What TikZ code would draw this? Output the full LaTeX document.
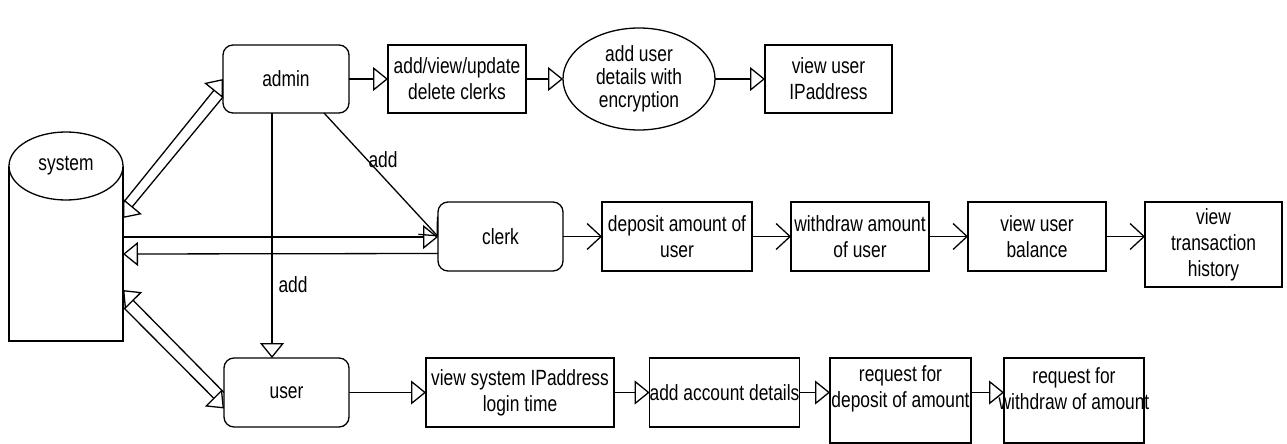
\documentclass[tikz,border=0pt]{standalone}
\usepackage{fontspec}
\setmainfont{Liberation Sans}[FakeStretch=0.79]
\usetikzlibrary{arrows.meta,shapes.geometric,calc}
\begin{document}
\begin{tikzpicture}[x=1pt,y=-1pt,line width=1.3pt,
  font=\fontsize{22}{26}\selectfont,
  box/.style={draw, rectangle, inner sep=0pt, outer sep=0pt, align=center, minimum height=68pt},
  rbox/.style={box, rounded corners=10pt},
  tri/.style={-{Triangle[open,length=15pt,width=24pt]}},
  barb/.style={-{Straight Barb[length=14pt,width=26pt]}}]
\path[fill=white] (0,0) rectangle (1287,444);
\useasboundingbox (0,0) rectangle (1287,444);

% system cylinder
\draw (9,166) -- (9,341) -- (123,341) -- (123,166);
\draw[fill=white] (66,166) ellipse [x radius=57pt, y radius=34pt];
\node (sys) at (66,166) {system};
\coordinate (s1) at (123,203);
\coordinate (s2) at (123,218);
\coordinate (s3) at (123,237);
\coordinate (s4) at (123,254);
\coordinate (s5) at (123,290);
\coordinate (s6) at (123,307);

% top row
\node[rbox, minimum width=126pt] (admin) at (286,79) {admin};
\node[box, minimum width=138pt] (b1) at (457,79) {add/view/update\\delete clerks};
\node[draw, ellipse, inner sep=0pt, outer sep=0pt, minimum width=152pt, minimum height=102pt, align=center,
  font=\fontsize{22}{23}\selectfont] (enc) at (639,79) {add user\\details with\\encryption};
\node[box, minimum width=127pt] (b2) at (828.5,79) {view user\\IPaddress};

% middle row
\node[rbox, minimum width=125pt, minimum height=69pt] (clerk) at (500.5,236.5) {clerk};
\node[box, minimum width=150pt, minimum height=69pt] (c1) at (677,236.5) {deposit amount of\\user};
\node[box, minimum width=138pt, minimum height=69pt] (c2) at (860,236.5) {withdraw amount\\of user};
\node[box, minimum width=138pt, minimum height=69pt] (c3) at (1037,236.5) {view user\\balance};
\node[box, minimum width=137pt, minimum height=85pt] (c4) at (1213.5,244.5) {view\\transaction\\history};

% bottom row
\node[rbox, minimum width=125pt, minimum height=69pt] (user) at (286.5,392.5) {user};
\node[box, minimum width=188pt, minimum height=69pt] (u1) at (520,392.5) {view system IPaddress\\login time};
\node[box, minimum width=145pt, minimum height=69pt] (u2) at (724.5,392.5) {add account details};
\node[box, minimum width=141pt, minimum height=85pt] (u3) at (900.5,400.5) {};
\node[align=center] (u3t) at (900.5,389) {request for\\deposit of amount};
\node[box, minimum width=140pt, minimum height=85pt] (u4) at (1074,400.5) {};
\node[align=center] (u4t) at (1074,389) {request for\\withdraw of amount};

% top row connectors
\draw[tri] (admin) -- (b1);
\draw[tri] (b1) -- (enc);
\draw[tri] (enc) -- (b2);

% middle row connectors
\draw[barb] (clerk) -- (c1);
\draw[barb] (c1) -- (c2);
\draw[barb] (c2) -- (c3);
\draw[barb] (c3.east) -- (c3.east -| c4.west);

% bottom row connectors
\draw[tri] (user) -- (u1);
\draw[tri] (u1) -- (u2);
\draw[tri] (u2.east) -- (u2.east -| u3.west);
\draw[tri] (u2.east -| u3.east) -- (u2.east -| u4.west);

% system <-> admin
\draw[tri] (s1) -- (admin.west);
\draw[tri] ([yshift=-18pt]admin.west) -- (s2);
% system <-> clerk
\draw[tri] (s3) -- (s3 -| clerk.west);
\draw[tri] ([yshift=-17pt]clerk.west) -- (s4);
% system <-> user
\draw[tri] (user.west) -- (s5);
\draw[tri] (s6) -- ([yshift=-16pt]user.west);

% admin -> user, admin -> clerk
\draw[tri] ([xshift=-14pt]admin.south) -- ([xshift=-14pt]admin.south |- user.north);
\draw[barb] ([xshift=38pt]admin.south) -- (clerk.west);
\node (lbl1) at (383,160) {add};
\node (lbl2) at (293,285) {add};
\end{tikzpicture}
\end{document}
